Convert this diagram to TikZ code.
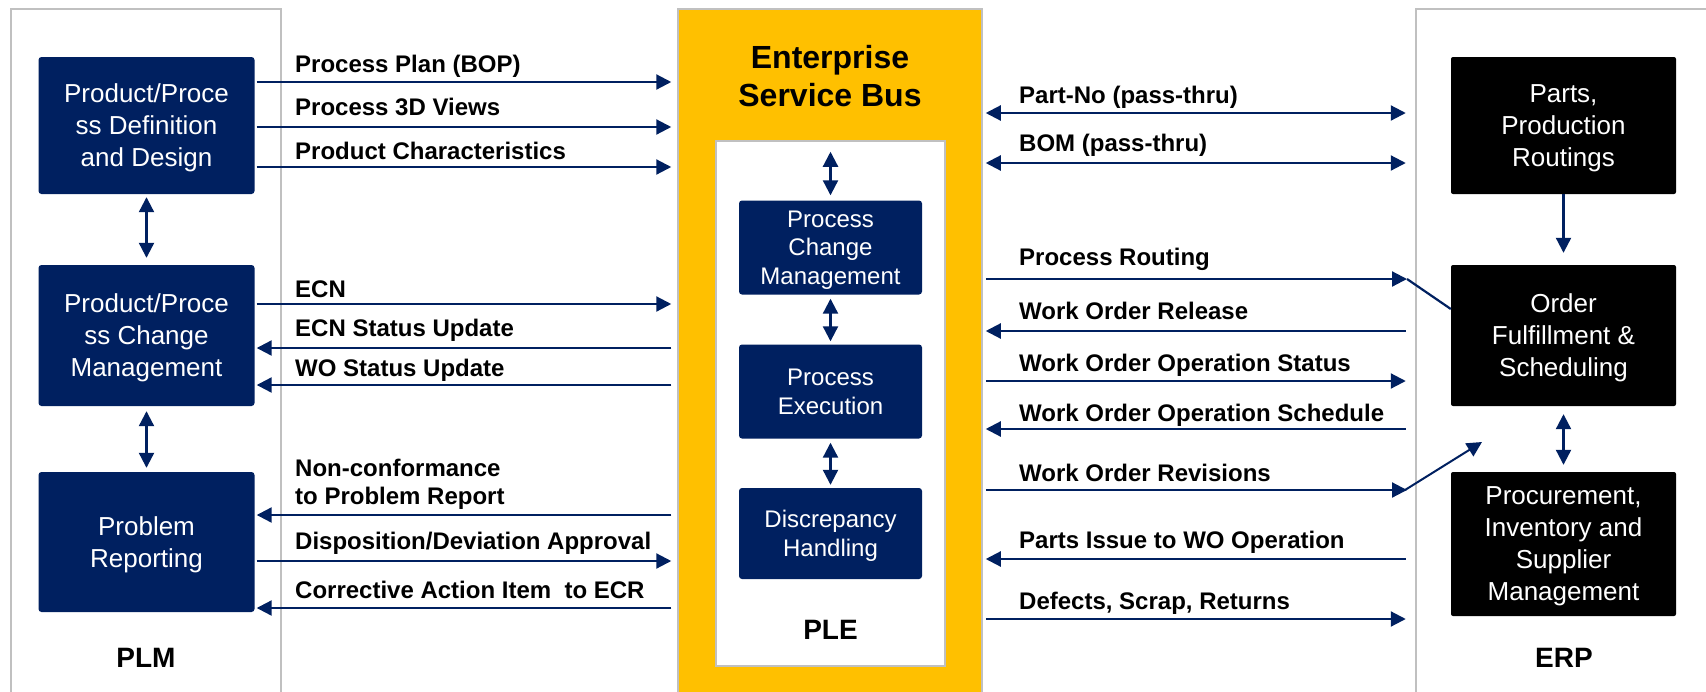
\documentclass[tikz,border=0pt]{standalone}
\usepackage{fontspec}
\setmainfont{Liberation Sans}
\usetikzlibrary{arrows.meta,calc}
\definecolor{navy}{RGB}{0,32,96}
\definecolor{busyellow}{RGB}{255,192,0}
\definecolor{framegray}{RGB}{192,192,192}

\tikzset{
  frame/.style={draw=framegray, line width=2.5pt, fill=none},
  sidebox/.style={fill=navy, text=white, rounded corners=3pt, align=center,
    inner sep=0pt, minimum width=216pt, text depth=-3pt,
    font=\fontsize{26}{32}\selectfont},
  midbox/.style={fill=navy, text=white, rounded corners=3pt, align=center,
    inner sep=0pt, minimum width=183pt, minimum height=94pt, text depth=-2.5pt,
    font=\fontsize{24}{28.7}\selectfont},
  erpbox/.style={fill=black, text=white, rounded corners=2pt, align=center,
    inner sep=0pt, minimum width=225pt, text depth=-3pt,
    font=\fontsize{26}{32}\selectfont},
  lbl/.style={font=\fontsize{24}{28}\selectfont\bfseries, anchor=base west,
    inner sep=0pt, align=left},
  title/.style={font=\fontsize{28}{32}\selectfont\bfseries, inner sep=0pt},
  flow/.style={draw=navy, line width=2.2pt},
  >={Triangle[length=15pt,width=15pt]},
}

\begin{document}
\begin{tikzpicture}[x=1pt,y=-1pt]
\useasboundingbox (0,0) rectangle (1706,691);
\fill[white] (0,0) rectangle (1706,691);

% system frames (open towards the lower edge)
\node[frame, minimum width=270pt, minimum height=730pt] (plmframe) at (146,374) {};
\node[frame, minimum width=344pt, minimum height=730pt] (erpframe) at (1588,374) {};

% enterprise service bus with the PLE block inside
\node[fill=busyellow, draw=framegray, line width=1.5pt, minimum width=304pt,
      minimum height=730pt, inner sep=0pt] (esb) at (830,374) {};
\node[font=\fontsize{32}{38}\selectfont\bfseries, align=center, inner sep=0pt]
      (esbtitle) at (830,76) {Enterprise\\Service Bus};
\node[fill=white, draw=framegray, line width=2.5pt, minimum width=229pt,
      minimum height=525pt, inner sep=0pt] (ple) at (830.5,403.5) {};

% PLM boxes
\node[sidebox, minimum height=137pt] (def) at (146.5,125.5) {Product/Proce\\ss Definition\\and Design};
\node[sidebox, minimum height=141pt] (chg) at (146.5,335.5) {Product/Proce\\ss Change\\Management};
\node[sidebox, minimum height=140pt] (prb) at (146.5,542) {Problem\\Reporting};

% PLE boxes
\node[midbox] (pcm) at (830.5,247.5) {Process\\Change\\Management};
\node[midbox] (pex) at (830.5,391.5) {Process\\Execution};
\node[midbox, minimum height=91pt] (dis) at (830.5,533.5) {Discrepancy\\Handling};

% ERP boxes
\node[erpbox, minimum height=137pt] (parts) at (1563.5,125.5) {Parts,\\Production\\Routings};
\node[erpbox, minimum height=141pt] (order) at (1563.5,335.5) {Order\\Fulfillment \&\\Scheduling};
\node[erpbox, minimum height=144pt] (proc) at (1563.5,544) {Procurement,\\Inventory and\\Supplier\\Management};

% column titles
\node[title] (plm) at (146,658) {PLM};
\node[title] (plel) at (830.5,630) {PLE};
\node[title] (erp) at (1564,658) {ERP};

% links inside the columns
\draw[flow,<->, shorten <=3pt, shorten >=7pt] (def) -- (chg);
\draw[flow,<->, shorten <=5pt, shorten >=4pt] (chg) -- (prb);
\draw[flow,<->, shorten <=12pt, shorten >=5pt] (ple.north) -- (pcm);
\draw[flow,<->, shorten <=4pt, shorten >=3pt] (pcm) -- (pex);
\draw[flow,<->, shorten <=4pt, shorten >=3pt] (pex) -- (dis);
\draw[flow,->, shorten >=12pt] (parts) -- (order);
\draw[flow,<->, shorten <=8pt, shorten >=7pt] (order) -- (proc);

% PLM <-> bus
\draw[flow,->, shorten <=2pt, shorten >=6pt] (def.east |- 0,82) -- (esb.west |- 0,82);
\draw[flow,->, shorten <=2pt, shorten >=6pt] (def.east |- 0,127) -- (esb.west |- 0,127);
\draw[flow,->, shorten <=2pt, shorten >=6pt] (def.east |- 0,167) -- (esb.west |- 0,167);
\draw[flow,->, shorten <=2pt, shorten >=6pt] (chg.east |- 0,304) -- (esb.west |- 0,304);
\draw[flow,->, shorten <=6pt, shorten >=2pt] (esb.west |- 0,348) -- (chg.east |- 0,348);
\draw[flow,->, shorten <=6pt, shorten >=2pt] (esb.west |- 0,385) -- (chg.east |- 0,385);
\draw[flow,->, shorten <=6pt, shorten >=2pt] (esb.west |- 0,515) -- (prb.east |- 0,515);
\draw[flow,->, shorten <=2pt, shorten >=6pt] (prb.east |- 0,561) -- (esb.west |- 0,561);
\draw[flow,->, shorten <=6pt, shorten >=2pt] (esb.west |- 0,608) -- (prb.east |- 0,608);

\node[lbl] (l1) at (295,72) {Process Plan (BOP)};
\node[lbl] (l2) at (295,115) {Process 3D Views};
\node[lbl] (l3) at (295,159) {Product Characteristics};
\node[lbl] (l4) at (295,297) {ECN};
\node[lbl] (l5) at (295,336) {ECN Status Update};
\node[lbl] (l6) at (295,376) {WO Status Update};
\node[lbl] (l7) at (295,504) {Non-conformance\\to Problem Report};
\node[lbl] (l8) at (295,549) {Disposition/Deviation Approval};
\node[lbl] (l9) at (295,598) {Corrective Action Item\ \ to ECR};

% bus <-> ERP
\coordinate (rtip) at (1407,279);
\coordinate (wtip) at (1407,490);
\coordinate (wend) at (1482,442);
\draw[flow,<->, shorten <=3pt, shorten >=9pt] (esb.east |- 0,113) -- (erpframe.west |- 0,113);
\draw[flow,<->, shorten <=3pt, shorten >=9pt] (esb.east |- 0,163) -- (erpframe.west |- 0,163);
\draw[flow,->, shorten <=3pt] (esb.east |- rtip) -- (rtip);
\draw[flow] (rtip) -- (order.west |- 0,309);
\draw[flow,->, shorten <=9pt, shorten >=3pt] (erpframe.west |- 0,331) -- (esb.east |- 0,331);
\draw[flow,->, shorten <=3pt, shorten >=9pt] (esb.east |- 0,381) -- (erpframe.west |- 0,381);
\draw[flow,->, shorten <=9pt, shorten >=3pt] (erpframe.west |- 0,429) -- (esb.east |- 0,429);
\draw[flow,->, shorten <=3pt] (esb.east |- wtip) -- (wtip);
\draw[flow,->, line width=2pt] ($(wtip)+(-2,0)$) -- (wend);
\draw[flow,->, shorten <=9pt, shorten >=3pt] (erpframe.west |- 0,559) -- (esb.east |- 0,559);
\draw[flow,->, shorten <=3pt, shorten >=9pt] (esb.east |- 0,619) -- (erpframe.west |- 0,619);

\node[lbl] (r1) at (1019,103) {Part-No (pass-thru)};
\node[lbl] (r2) at (1019,151) {BOM (pass-thru)};
\node[lbl] (r3) at (1019,265) {Process Routing};
\node[lbl] (r4) at (1019,319) {Work Order Release};
\node[lbl] (r5) at (1019,371) {Work Order Operation Status};
\node[lbl] (r6) at (1019,421) {Work Order Operation Schedule};
\node[lbl] (r7) at (1019,481) {Work Order Revisions};
\node[lbl] (r8) at (1019,548) {Parts Issue to WO Operation};
\node[lbl] (r9) at (1019,609) {Defects, Scrap, Returns};
\end{tikzpicture}
\end{document}
